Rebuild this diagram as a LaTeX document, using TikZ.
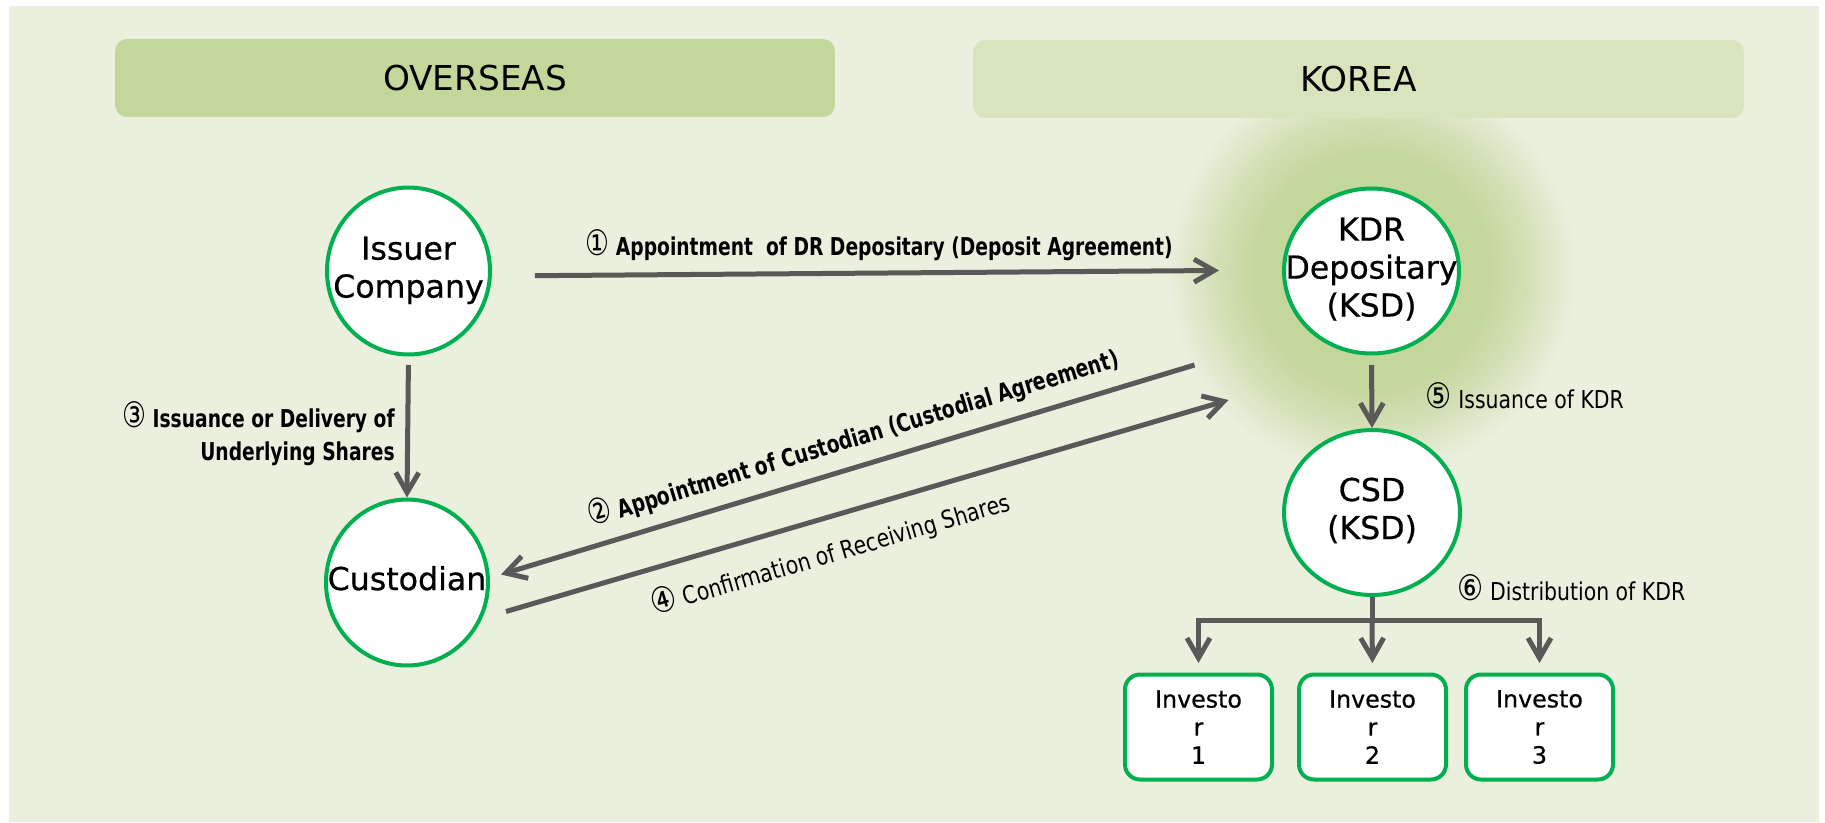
\documentclass[tikz,border=0pt]{standalone}
\usepackage{fontspec}
\setmainfont{DejaVu Sans}
\newfontfamily\nodefont[FakeBold=0.6]{DejaVu Sans}
\newfontfamily\lblfont[FakeStretch=0.76]{DejaVu Sans}
\newfontfamily\thinfont[FakeStretch=0.83]{DejaVu Sans}
\usepackage{xcolor}
\usetikzlibrary{arrows.meta,shapes.geometric}

\definecolor{bgc}{HTML}{EBEFDE}
\definecolor{hdrdark}{HTML}{C4D79B}
\definecolor{hdrlight}{HTML}{D8E4BC}
\definecolor{glowc}{HTML}{C3D69B}
\definecolor{ringc}{HTML}{00B050}
\definecolor{arrc}{HTML}{595959}

\pgfdeclareradialshading{kdrglow}{\pgfpoint{0bp}{0bp}}{color(0bp)=(glowc);
  color(14bp)=(glowc); color(19bp)=(glowc!60!bgc); color(25bp)=(bgc);
  color(50bp)=(bgc)}

\newcommand\ctr[1]{\makebox[0pt]{\begin{tabular}{@{}c@{}}#1\end{tabular}}}
\newcommand\cnum[1]{{\mdseries\fontsize{20}{18}\selectfont#1}}

\tikzset{
  party/.style = {ellipse, draw=ringc, line width=0.08cm, fill=white,
    inner sep=0pt, font=\nodefont\fontsize{18}{21.6}\selectfont},% cercle vert
  invbox/.style = {rectangle, rounded corners=0.3cm, draw=ringc,
    line width=0.08cm, fill=white, minimum width=2.94cm,
    minimum height=2.1cm, align=center,
    font=\nodefont\fontsize{13.5}{16}\selectfont},% investisseur
  region/.style = {rectangle, rounded corners=0.24cm, minimum height=1.56cm,
    font=\fontsize{19.5}{23}\selectfont},% bandeau
  flow/.style = {->, arrc, line width=0.1cm},
  boldlbl/.style = {inner sep=0pt, text=black,
    font=\lblfont\bfseries\fontsize{14}{18.8}\selectfont},
  thinlbl/.style = {inner sep=0pt, text=black,
    font=\thinfont\fontsize{14}{17}\selectfont}
}

\begin{document}
\begin{tikzpicture}[x=0.02cm, y=-0.02cm,
  >={Straight Barb[length=0.4cm,width=0.46cm]}]
\useasboundingbox (0,0) rectangle (1825,822);
\fill[bgc] (9,6) rectangle (1819,822);
\shade[shading=kdrglow] (1372,271) circle [radius=4.1cm];

\node[region, fill=hdrdark, minimum width=14.4cm] (ovs) at (475,78) {OVERSEAS};
\node[region, fill=hdrlight, minimum width=15.42cm] (kor) at (1358.5,79) {KOREA};

\node[party, minimum width=3.26cm, minimum height=3.34cm] (iss) at (408.5,271)
  {\ctr{Issuer\\Company}};
\node[party, minimum width=3.24cm, minimum height=3.32cm] (cus) at (407,582.5)
  {\ctr{Custodian}};
\node[party, minimum width=3.5cm, minimum height=3.3cm] (kdr) at (1371.5,271)
  {\ctr{KDR\\Depositary\\(KSD)}};
\node[party, minimum width=3.52cm, minimum height=3.3cm] (csd) at (1372,512.5)
  {\ctr{CSD\\(KSD)}};

\node[invbox] (inv1) at (1198.5,727) {Investo\\r\\1};
\node[invbox] (inv2) at (1372.5,727) {Investo\\r\\2};
\node[invbox] (inv3) at (1539.5,727) {Investo\\r\\3};

% overseas side
\draw[flow, shorten <=0.86cm, shorten >=1.26cm] ([yshift=-0.1cm]iss.east) -- ([yshift=0.02cm]kdr.west)
  node[boldlbl, pos=0.49, anchor=south, outer sep=0.24cm]
  {\cnum{①} Appointment\ \ of DR Depositary (Deposit Agreement)};
\draw[flow, shorten <=0.17cm] (iss.south) -- (cus.north)
  node[boldlbl, pos=0.55, anchor=east, outer sep=0.26cm, align=right]
  {\cnum{③} Issuance or Delivery of\\Underlying Shares};
\draw[flow] ([shift={(-177,94)}]kdr.center) -- ([shift={(94,-8)}]cus.center)
  node[boldlbl, pos=0.48, rotate=16.9, anchor=south, outer sep=0.29cm]
  {\cnum{②} Appointment of Custodian (Custodial Agreement)};
\draw[flow] ([shift={(99,29)}]cus.center) -- ([shift={(-143,129)}]kdr.center)
  node[thinlbl, pos=0.435, rotate=16.4, anchor=north, outer sep=0.38cm]
  {\cnum{④} Confirmation of Receiving Shares};

% korea side
\draw[flow, shorten <=0.19cm] (kdr.south) -- (csd.north)
  node[thinlbl, pos=0.55, anchor=west, outer sep=1.08cm] {\cnum{⑤} Issuance of KDR};
\draw[arrc, line width=0.1cm] (csd.south) -- ++(0,24) coordinate (hub)
  node[thinlbl, pos=0, anchor=west, xshift=1.66cm, yshift=0.18cm]
  {\cnum{⑥} Distribution of KDR};
\draw[flow, shorten >=0.19cm] (hub) -| (inv1.north);
\draw[flow, shorten >=0.19cm] (hub) -- (inv2.north);
\draw[flow, shorten >=0.19cm] (hub) -| (inv3.north);
\end{tikzpicture}
\end{document}
